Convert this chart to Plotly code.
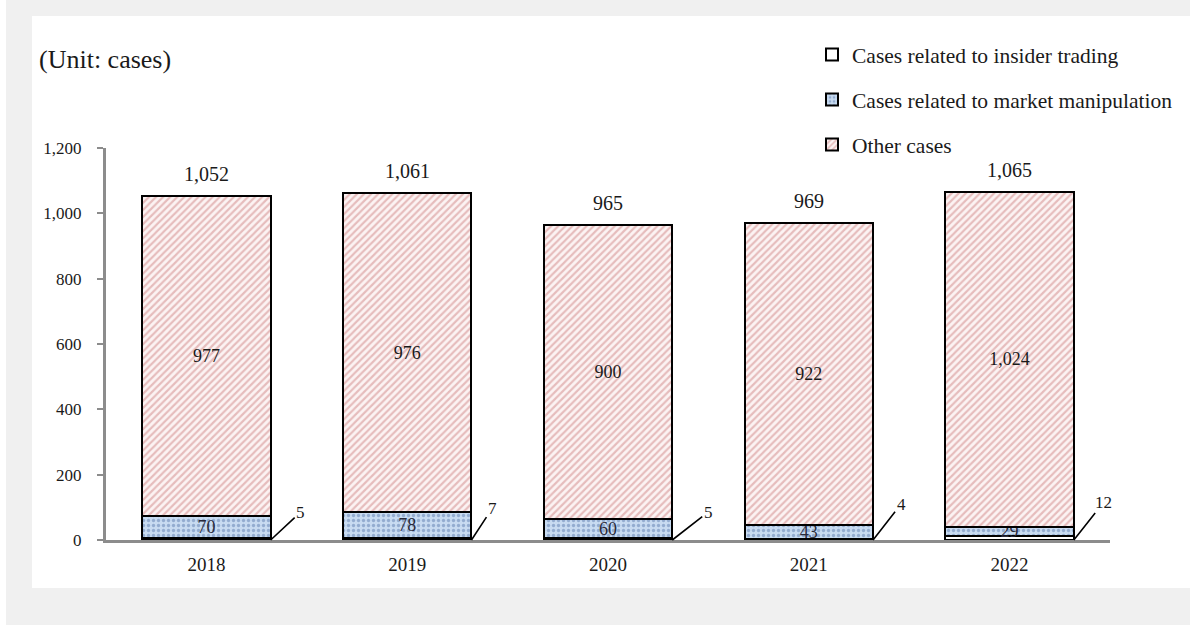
import plotly.graph_objects as go

years = ["2018", "2019", "2020", "2021", "2022"]
insider = [5, 7, 5, 4, 12]
manipulation = [70, 78, 60, 43, 29]
other = [977, 976, 900, 922, 1024]
series_names = ["Cases related to insider trading",
                "Cases related to market manipulation",
                "Other cases"]
y_ticks = [0, 200, 400, 600, 800, 1000, 1200]

totals = [a + b + c for a, b, c in zip(insider, manipulation, other)]

FONT = "Liberation Serif, Times New Roman, serif"
TXT = "#1a1a1a"

# plot area geometry (pixels)
W, H = 1190, 625
ML, MR, MT, MB = 106, 80, 148, 85
PW, PH = W - ML - MR, H - MT - MB

def px2paper_x(px):
    return (px - ML) / PW

def px2paper_y(py):
    return (H - MB - py) / PH

BAR_W = 0.64

fig = go.Figure()
fig.add_trace(go.Bar(
    x=years, y=insider, name=series_names[0], legendgroup="a",
    width=BAR_W,
    marker=dict(color="white", line=dict(color="black", width=2)),
))
fig.add_trace(go.Bar(
    x=years, y=manipulation, name=series_names[1], legendgroup="b",
    width=BAR_W,
    text=manipulation, texttemplate="%{y:,}", textposition="inside",
    insidetextanchor="middle", constraintext="none", textangle=0,
    textfont=dict(family=FONT, size=18, color="#2a2a3a"),
    marker=dict(color="#c2d6ef", line=dict(color="black", width=2),
                pattern=dict(shape=".", fgcolor="#93acd0", bgcolor="#c8dbf1",
                             size=5, solidity=0.35, fillmode="replace")),
))
fig.add_trace(go.Bar(
    x=years, y=other, name=series_names[2], legendgroup="c",
    width=BAR_W,
    text=other, texttemplate="%{y:,}", textposition="inside",
    insidetextanchor="middle", constraintext="none", textangle=0,
    textfont=dict(family=FONT, size=18, color=TXT),
    marker=dict(color="#c05050", line=dict(color="black", width=2),
                pattern=dict(shape="/", fgcolor="#e6bcbc", bgcolor="#fcf3f3",
                             size=5, solidity=0.42, fillmode="replace")),
))

annotations = []
# totals above the bars
for i, (yr, t) in enumerate(zip(years, totals)):
    annotations.append(dict(
        x=i, y=t, xref="x", yref="y", text=f"{t:,}", showarrow=False,
        yanchor="middle", yshift=22,
        font=dict(family=FONT, size=20, color=TXT)))

# leader-line labels for the small insider-trading values
label_offsets = [(30, -28), (21, -32), (36, -28), (28, -36), (30, -38)]
for i, (v, (ax, ay)) in enumerate(zip(insider, label_offsets)):
    annotations.append(dict(
        x=i + BAR_W / 2, y=0, xref="x", yref="y", text=f"{v:,}",
        showarrow=True, arrowhead=0, arrowwidth=1.6, arrowcolor="black",
        ax=ax, ay=ay, standoff=0, startstandoff=0,
        font=dict(family=FONT, size=17, color=TXT)))

annotations.append(dict(
    x=px2paper_x(37), y=px2paper_y(60), xref="paper", yref="paper",
    xanchor="left", yanchor="middle", text="(Unit: cases)", showarrow=False,
    font=dict(family=FONT, size=26, color=TXT)))

shapes = [
    dict(type="rect", xref="paper", yref="paper", layer="below",
         x0=px2paper_x(32), x1=px2paper_x(W + 5),
         y0=px2paper_y(588), y1=px2paper_y(16),
         fillcolor="white", line=dict(width=0)),
    dict(type="rect", xref="paper", yref="paper", layer="below",
         x0=px2paper_x(-5), x1=px2paper_x(6),
         y0=px2paper_y(H + 5), y1=px2paper_y(-5),
         fillcolor="white", line=dict(width=0)),
]

fig.update_layout(
    width=W, height=H,
    margin=dict(l=ML, r=MR, t=MT, b=MB, pad=0, autoexpand=False),
    barmode="stack",
    paper_bgcolor="#f0f0f0",
    plot_bgcolor="white",
    font=dict(family=FONT, color=TXT),
    showlegend=True,
    legend=dict(
        x=px2paper_x(812), y=px2paper_y(34), xanchor="left", yanchor="top",
        traceorder="grouped", tracegroupgap=14,
        font=dict(family=FONT, size=21.5, color=TXT),
        bgcolor="rgba(0,0,0,0)", itemwidth=30,
    ),
    xaxis=dict(
        type="category", range=[-0.5, len(years) - 0.5],
        showline=True, linecolor="#8c8c8c", linewidth=3,
        ticks="", showgrid=False, zeroline=False,
        tickfont=dict(family=FONT, size=19, color=TXT),
        ticklabelstandoff=5,
    ),
    yaxis=dict(
        range=[0, 1200], tickvals=y_ticks,
        ticktext=[f"{v:,}" for v in y_ticks],
        showline=True, linecolor="#8c8c8c", linewidth=3,
        ticks="outside", ticklen=6, tickwidth=2, tickcolor="#8c8c8c",
        showgrid=False, zeroline=False,
        tickfont=dict(family=FONT, size=17, color=TXT),
        ticklabelstandoff=12,
    ),
    annotations=annotations,
    shapes=shapes,
)

fig.write_html("out.html")
